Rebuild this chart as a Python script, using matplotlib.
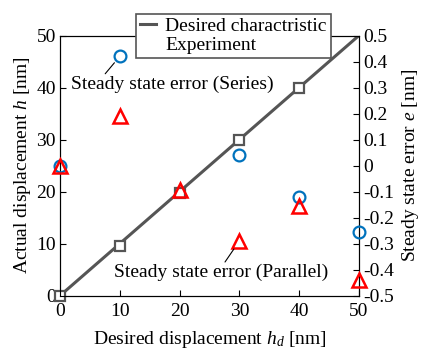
import numpy as np
import matplotlib
matplotlib.use("Agg")
import matplotlib.pyplot as plt
from matplotlib.lines import Line2D

plt.rcParams['font.family'] = ['Liberation Serif', 'DejaVu Serif']
plt.rcParams['mathtext.fontset'] = 'custom'
plt.rcParams['mathtext.rm'] = 'Liberation Serif'
plt.rcParams['mathtext.it'] = 'Liberation Serif:italic'

# 目標変位と実変位
h_desired = [0, 10, 20, 30, 40, 50]
h_exp_x = [0, 10, 20, 30, 40]
h_exp = [0, 9.6, 19.7, 30, 40]

# 定常偏差 (直列 / 並列)
err_x = [0, 10, 20, 30, 40, 50]
err_series = [0.0, 0.42, 0.315, 0.04, -0.12, -0.255]
err_parallel = [0.0, 0.19, -0.094, -0.29, -0.155, -0.44]

xticks = [0, 10, 20, 30, 40, 50]
yticks = [0, 10, 20, 30, 40, 50]
eticks = [-0.5, -0.4, -0.3, -0.2, -0.1, 0, 0.1, 0.2, 0.3, 0.4, 0.5]
elabels = ["-0.5", "-0.4", "-0.3", "-0.2", "-0.1", "0", "0.1", "0.2", "0.3", "0.4", "0.5"]

fig = plt.figure(figsize=(4.24, 3.52), dpi=100)
ax = fig.add_axes([0.1415, 0.16, 0.705, 0.739])
ax2 = ax.twinx()

gray = "#555555"
ax.plot(h_desired, h_desired, color=gray, lw=2.2, zorder=2)
ax.plot(h_exp_x, h_exp, ls="none", marker="s", ms=7, mfc="white", mec=gray, mew=1.6,
        zorder=3, clip_on=False)

ax2.plot(err_x, err_series, ls="none", marker="o", ms=8.5, mfc="none", mec="#0072BD", mew=1.6,
         zorder=3, clip_on=False)
ax2.plot(err_x, err_parallel, ls="none", marker="^", ms=9.5, mfc="none", mec="red", mew=1.8,
         zorder=4, clip_on=False)

ax.set_xlim(0, 50)
ax.set_ylim(0, 50)
ax2.set_ylim(-0.5, 0.5)
ax.set_xticks(xticks)
ax.set_yticks(yticks)
ax2.set_yticks(eticks)
ax2.set_yticklabels(elabels)

for a in (ax, ax2):
    a.tick_params(direction="in", labelsize=14, length=4, pad=3)
ax.tick_params(axis="x", pad=5)
ax.tick_params(top=False)

ax.set_xlabel("Desired displacement $h_d$ [nm]", fontsize=14, labelpad=7)
ax.set_ylabel("Actual displacement $h$ [nm]", fontsize=14, labelpad=2)
ax2.set_ylabel("Steady state error $e$ [nm]", fontsize=14, labelpad=4)

box = dict(boxstyle="square,pad=0.05", fc="white", ec="none")
ax2.annotate("Steady state error (Series)", xy=(10, 0.42),
             xytext=(18.8, 40.6), textcoords=ax.transData,
             ha="center", va="center", fontsize=14, bbox=box, zorder=6,
             arrowprops=dict(arrowstyle="-", color="black", lw=0.8, relpos=(0.16, 1.0),
                             shrinkA=1, shrinkB=6))
ax2.annotate("Steady state error (Parallel)", xy=(30, -0.29),
             xytext=(27.0, 4.4), textcoords=ax.transData,
             ha="center", va="center", fontsize=14, bbox=box, zorder=6,
             arrowprops=dict(arrowstyle="-", color="black", lw=0.8, relpos=(0.51, 1.0),
                             shrinkA=1, shrinkB=7))

handles = [Line2D([], [], color=gray, lw=2.2), Line2D([], [], ls="none")]
leg = ax2.legend(handles, ["Desired charactristic", "Experiment"],
                 loc="center", bbox_to_anchor=(0.58, 1.0), fontsize=14,
                 fancybox=False, framealpha=1, edgecolor=gray,
                 handlelength=0.8, handletextpad=0.5, borderpad=0.2,
                 labelspacing=0.05, borderaxespad=0)
leg.get_frame().set_linewidth(1.2)
leg.set_zorder(10)

fig.savefig("out.png", dpi=100)
